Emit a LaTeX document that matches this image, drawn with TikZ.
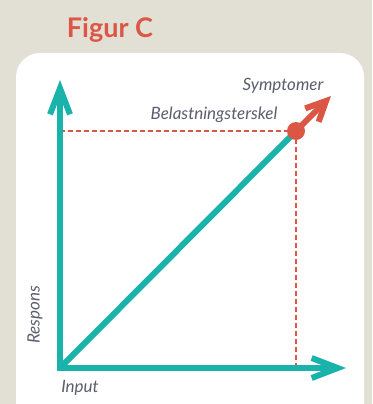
\documentclass[tikz,border=0pt]{standalone}
\usepackage{fontspec}
\setmainfont{Lato}
\usetikzlibrary{arrows.meta}
\definecolor{bgc}{HTML}{E2DFD5}
\definecolor{teal1}{HTML}{1AB3AC}
\definecolor{red1}{HTML}{DC5646}
\definecolor{txt}{HTML}{5B5E6E}
\begin{document}
\begin{tikzpicture}[x=1pt,y=-1pt,
  axis/.style={draw=teal1,line width=6pt,-{Straight Barb[length=26pt,width=20pt]}},
  lbl/.style={text=txt,font=\itshape\fontsize{17}{17}\selectfont,inner sep=0pt},
  thr/.style={draw=red1,line width=1.1pt,dash pattern=on 5pt off 3pt}]
\fill[bgc] (0,0) rectangle (372,404);
\useasboundingbox (0,0) rectangle (372,404);
\fill[white,rounded corners=24pt] (16,53) rectangle (364,430);
\node[text=red1,font=\bfseries\fontsize{27}{27}\selectfont,inner sep=0pt] (title) at (110,30) {Figur C};
\coordinate (O) at (60,368);
\coordinate (ytip) at (60,80);
\coordinate (xtip) at (346,368);
\coordinate (P) at (296,131);
\coordinate (sym) at (331,96);
\coordinate (hl) at (60,131);
\coordinate (vb) at (296,368);
\draw[thr] (hl) -- (P);
\draw[thr] (P) -- (vb);
\draw[draw=teal1,line width=6pt] (O) -- (P);
\draw[axis] (57,368) -- (xtip);
\draw[axis] (60,371) -- (ytip);
\draw[draw=red1,line width=6pt,-{Straight Barb[length=20pt,width=19pt]}] (P) -- (sym);
\fill[red1] (P) circle (9pt);
\node[lbl] (symlbl) at (283,86) {Symptomer};
\node[lbl] (bel) at (214,115) {Belastningsterskel};
\node[lbl,rotate=90] (resp) at (35,315) {Respons};
\node[lbl] (inp) at (80,388) {Input};
\end{tikzpicture}
\end{document}
